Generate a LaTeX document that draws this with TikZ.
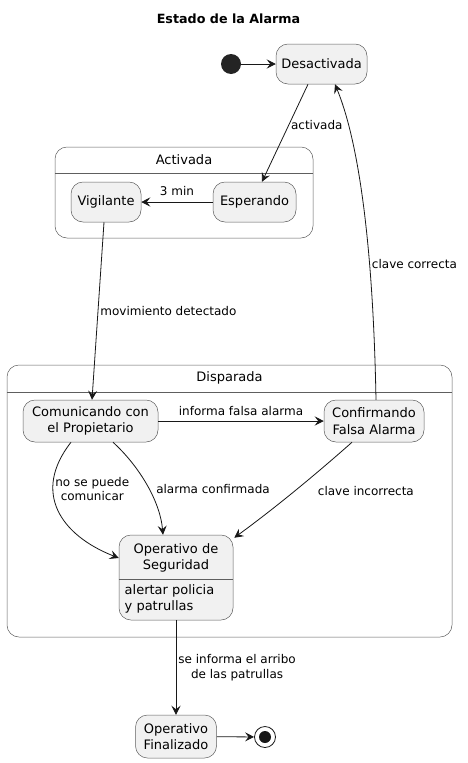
\documentclass[tikz,border=0pt]{standalone}
\usepackage{fontspec}
\setmainfont{DejaVu Sans}
\usepackage{tikz}
\usetikzlibrary{positioning,arrows.meta,calc}

\definecolor{statefill}{HTML}{F1F1F1}
\definecolor{edgecol}{HTML}{181818}
\definecolor{bordercol}{HTML}{5E5E5E}

\begin{document}
\begin{tikzpicture}[
    x=1pt, y=-1pt,
    state/.style={rectangle, rounded corners=12pt, draw=bordercol, line width=0.5pt, fill=statefill, align=center, inner sep=0pt, font=\fontsize{13}{16.5}\selectfont},
    cluster/.style={rectangle, rounded corners=12pt, draw=bordercol, line width=0.5pt, fill=white, inner sep=0pt},
    ctitle/.style={font=\fontsize{13}{16}\selectfont},
    arrow/.style={-{Stealth[length=9pt, width=9pt, inset=3.5pt]}, line width=0.8pt, draw=edgecol},
    msg/.style={font=\fontsize{12}{14.5}\selectfont, align=center, inner sep=2pt}
]
\useasboundingbox (0,0) rectangle (468,763);

% Title
\node[font=\fontsize{12.7}{15}\selectfont\bfseries] (title) at (228.5,19) {Estado de la Alarma};

% Composite states
\node[cluster, minimum width=258pt, minimum height=91pt] (activada) at (184,192.5) {};
\draw[bordercol, line width=0.5pt] (activada.west |- 0,173) -- (activada.east |- 0,173);
\node[ctitle] (activadatitle) at (activada.north |- 0,160) {Activada};

\node[cluster, minimum width=445pt, minimum height=272pt] (disparada) at (229.5,501) {};
\draw[bordercol, line width=0.5pt] (disparada.west |- 0,392) -- (disparada.east |- 0,392);
\node[ctitle] (disparadatitle) at (disparada.north |- 0,378) {Disparada};

% Pseudo states
\node[circle, fill=edgecol!95, minimum size=20pt, inner sep=0pt] (start) at (231,64) {};
\node[circle, draw=edgecol, line width=0.8pt, minimum size=21pt, inner sep=0pt] (end) at (265,737) {};
\node[circle, fill=edgecol, minimum size=12pt, inner sep=0pt] (enddot) at (end.center) {};

% States
\node[state, minimum width=91pt, minimum height=40pt] (desact) at (321.5,64) {Desactivada};
\node[state, minimum width=70pt, minimum height=40pt] (vigil) at (106,202) {Vigilante};
\node[state, minimum width=83pt, minimum height=40pt] (esper) at (254.5,202) {Esperando};
\node[state, minimum width=135pt, minimum height=42pt] (comun) at (90.5,421) {Comunicando con\\el Propietario};
\node[state, minimum width=100pt, minimum height=42pt] (confirm) at (374,421) {Confirmando\\Falsa Alarma};
\node[state, minimum width=81pt, minimum height=43pt] (fin) at (176,736.5) {Operativo\\Finalizado};

% Operativo de Seguridad, with its activity
\node[state, minimum width=114pt, minimum height=85pt] (opseg) at (176,577.5) {};
\node[font=\fontsize{13}{16.5}\selectfont, align=center] (optitle) at (176,558) {Operativo de\\Seguridad};
\draw[bordercol, line width=0.5pt] (opseg.west |- 0,579) -- (opseg.east |- 0,579);
\node[anchor=north west, align=left, inner sep=2pt, font=\fontsize{13}{16.5}\selectfont] (opbody) at (122.5,582) {alertar policia\\y patrullas};

% Transitions
\draw[arrow] (start) -- (desact);
\draw[arrow] ($(desact.south)+(-13.5,0)$) -- ($(esper.north)+(7.5,0)$) node[msg, pos=0.42, right] {activada};
\draw[arrow] (esper) -- (vigil) node[msg, midway, above=4pt] {3 min};
\draw[arrow] ($(vigil.south)+(-2,0)$) -- ($(comun.north)+(1.5,0)$) node[msg, midway, right] {movimiento detectado};
\draw[arrow] (comun) -- (confirm) node[msg, midway, above=3pt] {informa falsa alarma};
\draw[arrow] ($(comun.south)+(-19.5,0)$) .. controls (32,492) and (60,535) .. ($(opseg.west)+(0,-19.5)$) node[msg, pos=0.33, right] {no se puede\\comunicar};
\draw[arrow] ($(comun.south)+(22.5,0)$) .. controls (138,465) and (160,500) .. ($(opseg.north)+(-13,0)$) node[msg, pos=0.55, right=5pt] {alarma confirmada};
\draw[arrow] ($(confirm.south)+(-22,0)$) .. controls (315,475) and (275,508) .. ($(opseg.north east)+(1,3)$) node[msg, pos=0.5, right=21pt] {clave incorrecta};
\draw[arrow] ($(confirm.north)+(2,0)$) .. controls (373,240) and (358,140) .. ($(desact.south)+(13.5,0)$) node[msg, pos=0.32, right] {clave correcta};
\draw[arrow] (opseg) -- (fin) node[msg, midway, right] {se informa el arribo\\de las patrullas};
\draw[arrow] (fin) -- (end);

\end{tikzpicture}
\end{document}
